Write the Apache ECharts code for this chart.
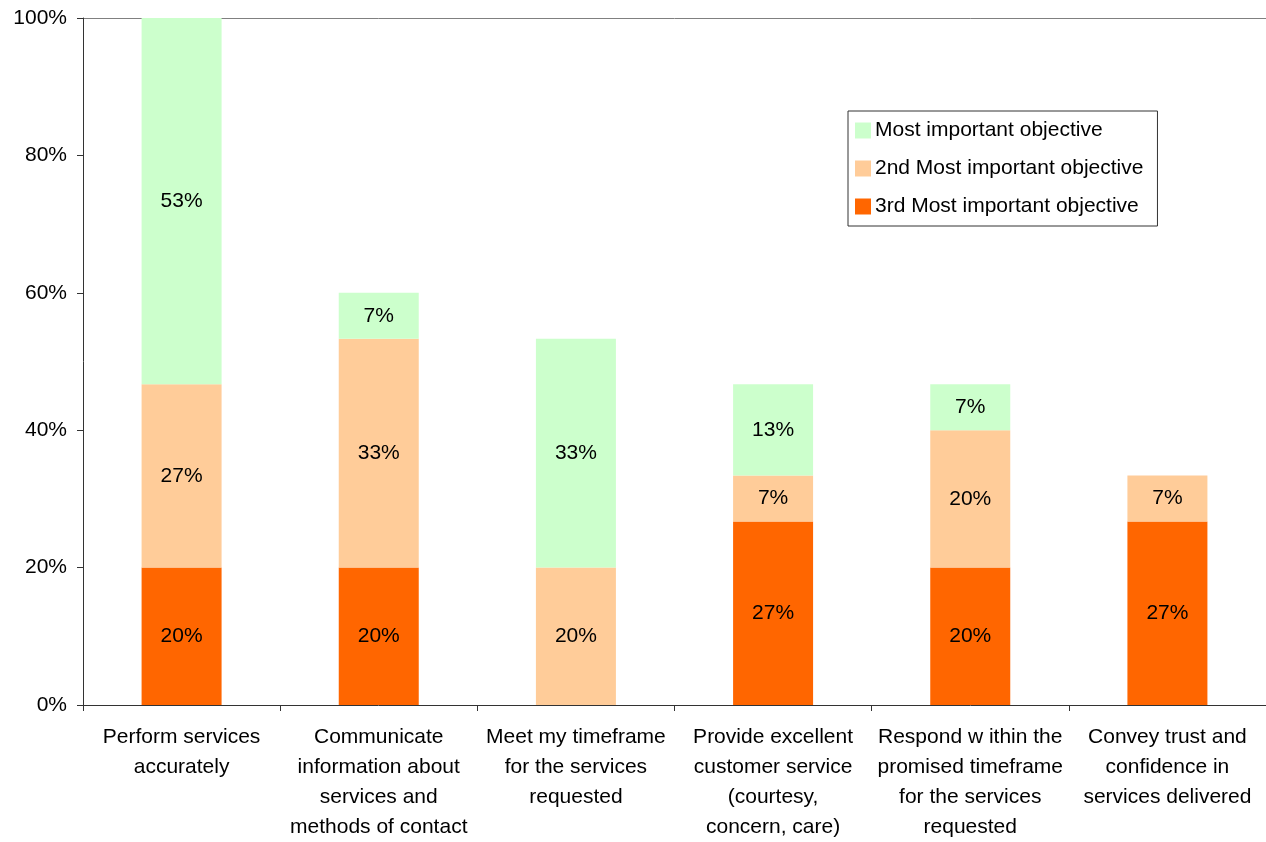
<!DOCTYPE html>
<html>
<head>
<meta charset="utf-8">
<script src="https://cdn.jsdelivr.net/npm/echarts@6/dist/echarts.min.js"></script>
<style>
  html, body { margin: 0; padding: 0; background: #fff; overflow: hidden; }
  #chart { width: 1266px; height: 842px; overflow: hidden; }
</style>
</head>
<body>
<div id="chart"></div>
<script>
// Objectives rated by respondents (share of respondents, %)
const categories = [
  'Perform services\naccurately',
  'Communicate\ninformation about\nservices and\nmethods of contact',
  'Meet my timeframe\nfor the services\nrequested',
  'Provide excellent\ncustomer service\n(courtesy,\nconcern, care)',
  'Respond w ithin the\npromised timeframe\nfor the services\nrequested',
  'Convey trust and\nconfidence in\nservices delivered'
];
const mostImportant = [53.3, 6.7, 33.3, 13.3, 6.7, 0];
const secondMost    = [26.7, 33.3, 20, 6.7, 20, 6.7];
const thirdMost     = [20, 20, 0, 26.7, 20, 26.7];
const yTicks = [0, 20, 40, 60, 80, 100];

const FONT = '"Liberation Sans", Arial, sans-serif';

function barSeries(name, data, color) {
  return {
    name: name,
    type: 'bar',
    stack: 'total',
    data: data,
    barWidth: 80,
    itemStyle: { color: color },
    label: {
      show: true,
      position: 'inside',
      color: '#000',
      fontFamily: FONT,
      fontSize: 21,
      formatter: p => p.value > 0 ? Math.round(p.value) + '%' : ''
    }
  };
}

const chart = echarts.init(document.getElementById('chart'), null, { renderer: 'canvas', width: 1266, height: 842 });
chart.setOption({
  animation: false,
  backgroundColor: '#fff',
  textStyle: { fontFamily: FONT },
  grid: { left: 83, top: 18, width: 1188, height: 691, containLabel: false },
  legend: {
    orient: 'vertical',
    left: 848,
    top: 111,
    data: ['Most important objective', '2nd Most important objective', '3rd Most important objective'],
    itemWidth: 16,
    itemHeight: 16,
    itemGap: 17,
    padding: [9, 14, 9, 7],
    borderColor: '#333',
    borderWidth: 1,
    icon: 'rect',
    textStyle: { fontFamily: FONT, fontSize: 21, color: '#000', padding: [0, 0, 0, -1] }
  },
  xAxis: {
    type: 'category',
    data: categories,
    boundaryGap: true,
    axisLine: { lineStyle: { color: '#333', width: 1 } },
    axisTick: { show: true, length: 6, lineStyle: { color: '#333' } },
    axisLabel: {
      interval: 0,
      margin: 17,
      color: '#000',
      fontFamily: FONT,
      fontSize: 21,
      lineHeight: 30
    }
  },
  yAxis: {
    type: 'value',
    min: yTicks[0],
    max: yTicks[yTicks.length - 1],
    interval: 20,
    axisLine: { show: true, lineStyle: { color: '#333', width: 1 } },
    axisTick: { show: true, length: 6, lineStyle: { color: '#333' } },
    axisLabel: {
      margin: 16,
      color: '#000',
      fontFamily: FONT,
      fontSize: 21,
      formatter: v => v + '%'
    },
    splitLine: {
      show: true,
      lineStyle: { color: ['transparent', 'transparent', 'transparent', 'transparent', 'transparent', '#808080'], width: 1 }
    }
  },
  series: [
    barSeries('3rd Most important objective', thirdMost, '#FF6600'),
    barSeries('2nd Most important objective', secondMost, '#FFCC99'),
    barSeries('Most important objective', mostImportant, '#CCFFCC')
  ]
});
</script>
</body>
</html>
